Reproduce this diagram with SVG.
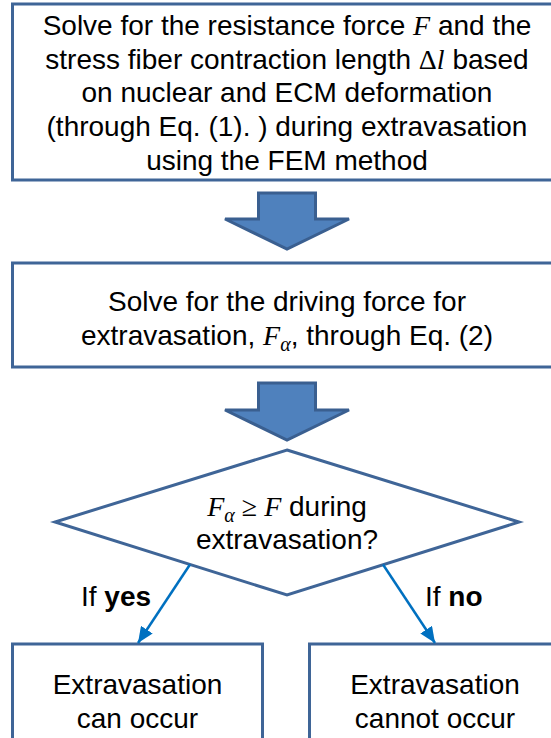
<svg xmlns="http://www.w3.org/2000/svg" width="551" height="738" viewBox="0 0 551 738">
<style>
.box{fill:#ffffff;stroke:#3F6597;stroke-width:3}
.t{font-family:"Liberation Sans",Arial,sans-serif;font-size:28px;fill:#000;text-anchor:middle}
.m{font-family:"Liberation Serif","Times New Roman",serif;font-style:italic}
.s{font-family:"Liberation Serif","Times New Roman",serif}
.sub{font-size:20px}
.b{font-weight:bold}
.blk{fill:#4F81BD;stroke:#3A5F90;stroke-width:3;stroke-linejoin:miter}
.conn{stroke:#0070C0;stroke-width:2.5;fill:none}
</style>
<defs>
<marker id="ah" viewBox="0 0 16 14" refX="16" refY="7" markerWidth="16" markerHeight="14" markerUnits="userSpaceOnUse" orient="auto">
<path d="M0,0 L16,7 L0,14 z" fill="#0070C0"/>
</marker>
</defs>
<rect width="551" height="738" fill="#ffffff"/>

<g id="step1">
<rect class="box" x="12.5" y="4" width="549" height="176"/>
<text class="t" x="287" y="35">Solve for the resistance force <tspan class="m">F</tspan> and the</text>
<text class="t" x="287" y="69">stress fiber contraction length <tspan class="s">Δ</tspan><tspan class="m">l</tspan> based</text>
<text class="t" x="287" y="102">on nuclear and ECM deformation</text>
<text class="t" x="287" y="136">(through Eq. (1). ) during extravasation</text>
<text class="t" x="287" y="170">using the FEM method</text>
</g>

<g id="arrow1">
<path class="blk" d="M258.5,193 L315.5,193 L315.5,219 L349,219 L287,249 L225,219 L258.5,219 Z"/>
</g>

<g id="step2">
<rect class="box" x="12.5" y="263" width="549" height="104"/>
<text class="t" x="287" y="311">Solve for the driving force for</text>
<text class="t" x="287" y="345">extravasation, <tspan class="m">F</tspan><tspan class="m sub" dy="6">α</tspan><tspan dy="-6">, through Eq. (2)</tspan></text>
</g>

<g id="arrow2">
<path class="blk" d="M258.5,383 L315.5,383 L315.5,410 L349,410 L287,440 L225,410 L258.5,410 Z"/>
</g>

<g id="decision">
<path class="box" d="M287,450 L519,522 L287,595 L55,522 Z" stroke-linejoin="miter"/>
<text class="t" x="287" y="516"><tspan class="m">F</tspan><tspan class="m sub" dy="6">α</tspan><tspan class="s" dy="-6"> ≥ </tspan><tspan class="m">F</tspan> during</text>
<text class="t" x="287" y="549">extravasation?</text>
</g>

<g id="yes">
<rect class="box" x="12.5" y="644" width="250" height="110"/>
<text class="t" x="137.5" y="694">Extravasation</text>
<text class="t" x="137.5" y="728">can occur</text>
</g>

<g id="no">
<rect class="box" x="309.5" y="644" width="252" height="110"/>
<text class="t" x="435" y="694">Extravasation</text>
<text class="t" x="435" y="728">cannot occur</text>
</g>

<g id="connectors">
<line class="conn" x1="190" y1="564.5" x2="138" y2="643" marker-end="url(#ah)"/>
<line class="conn" x1="383" y1="564.5" x2="435" y2="643" marker-end="url(#ah)"/>
<text class="t" x="81" y="606" style="text-anchor:start">If <tspan class="b">yes</tspan></text>
<text class="t" x="425" y="606" style="text-anchor:start">If <tspan class="b">no</tspan></text>
</g>
</svg>
